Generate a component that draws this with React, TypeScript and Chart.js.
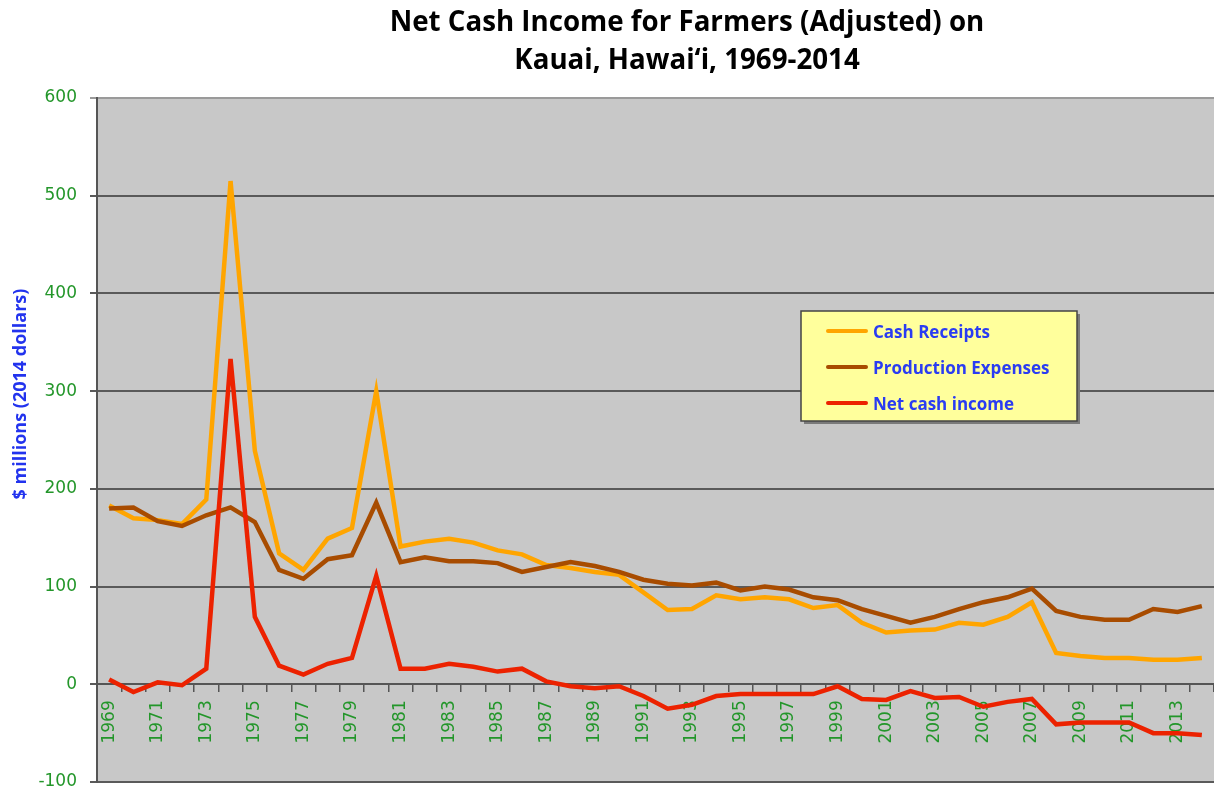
import React, { useEffect, useRef } from 'react';
import { Chart, registerables } from 'chart.js';

Chart.register(...registerables);

const YEARS = [
  '1969', '1970', '1971', '1972', '1973', '1974', '1975', '1976', '1977', '1978',
  '1979', '1980', '1981', '1982', '1983', '1984', '1985', '1986', '1987', '1988',
  '1989', '1990', '1991', '1992', '1993', '1994', '1995', '1996', '1997', '1998',
  '1999', '2000', '2001', '2002', '2003', '2004', '2005', '2006', '2007', '2008',
  '2009', '2010', '2011', '2012', '2013', '2014',
];

const CASH_RECEIPTS = [
  183, 170, 168, 164, 189, 515, 239, 134, 117, 149,
  160, 300, 141, 146, 149, 145, 137, 133, 122, 119,
  115, 112, 94, 76, 77, 91, 87, 89, 87, 78,
  81, 63, 53, 55, 56, 63, 61, 69, 84, 32,
  29, 27, 27, 25, 25, 27,
];

const PRODUCTION_EXPENSES = [
  180, 181, 167, 162, 173, 181, 166, 117, 108, 128,
  132, 186, 125, 130, 126, 126, 124, 115, 120, 125,
  121, 115, 107, 103, 101, 104, 96, 100, 97, 89,
  86, 77, 70, 63, 69, 77, 84, 89, 98, 75,
  69, 66, 66, 77, 74, 80,
];

const NET_CASH_INCOME = [
  5, -8, 2, -1, 16, 333, 69, 19, 10, 21,
  27, 111, 16, 16, 21, 18, 13, 16, 3, -2,
  -4, -2, -12, -25, -21, -12, -10, -10, -10, -10,
  -2, -15, -16, -7, -14, -13, -23, -18, -15, -41,
  -39, -39, -39, -50, -50, -52,
];

const SERIES_NAMES = ['Cash Receipts', 'Production Expenses', 'Net cash income'];
const SERIES_COLORS = ['#ffa500', '#a84c00', '#ec2200'];
const Y_MIN = -100;
const Y_MAX = 600;
const Y_STEP = 100;
const TITLE_LINES = ['Net Cash Income for Farmers (Adjusted) on', 'Kauai, Hawai\u2018i, 1969-2014'];
const Y_TITLE = '$ millions (2014 dollars)';

const decorPlugin = {
  id: 'decor',
  beforeDraw(chart: any) {
    const { ctx, chartArea: a } = chart;
    ctx.save();
    ctx.fillStyle = '#c8c8c8';
    ctx.fillRect(a.left, a.top, a.right - a.left, a.bottom - a.top);
    ctx.restore();
  },
  afterDraw(chart: any) {
    const { ctx } = chart;
    ctx.save();
    // Title
    ctx.fillStyle = '#000000';
    ctx.font = 'bold 27.7px "Open Sans"';
    ctx.textAlign = 'center';
    ctx.textBaseline = 'alphabetic';
    ctx.fillText(TITLE_LINES[0], 687, 31);
    ctx.fillText(TITLE_LINES[1], 687, 69);

    // Y axis title
    ctx.save();
    ctx.translate(21, 394);
    ctx.rotate(-Math.PI / 2);
    ctx.font = 'bold 18px "Open Sans"';
    ctx.fillStyle = '#2233ee';
    ctx.textAlign = 'center';
    ctx.textBaseline = 'middle';
    ctx.fillText(Y_TITLE, 0, 0);
    ctx.restore();

    // Legend
    const bx = 801, by = 311, bw = 276, bh = 110;
    ctx.fillStyle = '#7a7a7a';
    ctx.fillRect(bx + 3, by + 3, bw, bh);
    ctx.fillStyle = '#ffff9c';
    ctx.fillRect(bx, by, bw, bh);
    ctx.strokeStyle = '#444444';
    ctx.lineWidth = 1.5;
    ctx.strokeRect(bx, by, bw, bh);
    const rows = [333, 369, 405];
    ctx.font = 'bold 17px "Open Sans"';
    ctx.textAlign = 'left';
    ctx.textBaseline = 'middle';
    SERIES_NAMES.forEach((name, i) => {
      ctx.strokeStyle = SERIES_COLORS[i];
      ctx.lineWidth = 4;
      ctx.lineCap = 'round';
      ctx.beginPath();
      ctx.moveTo(828, rows[i] - 2);
      ctx.lineTo(866, rows[i] - 2);
      ctx.stroke();
      ctx.fillStyle = '#2a3cf2';
      ctx.fillText(name, 873, rows[i]);
    });
    ctx.restore();
  },
};

export default function App() {
  const canvasRef = useRef<HTMLCanvasElement | null>(null);

  useEffect(() => {
    document.body.style.margin = '0';
    const canvas = canvasRef.current;
    if (!canvas) return;
    const tickFont = { family: '"DejaVu Sans"', size: 17 };
    const chart = new Chart(canvas, {
      type: 'line',
      data: {
        labels: YEARS,
        datasets: [
          { label: SERIES_NAMES[0], data: CASH_RECEIPTS, borderColor: SERIES_COLORS[0], backgroundColor: SERIES_COLORS[0], borderWidth: 4.5, pointRadius: 0, tension: 0, order: 3 },
          { label: SERIES_NAMES[1], data: PRODUCTION_EXPENSES, borderColor: SERIES_COLORS[1], backgroundColor: SERIES_COLORS[1], borderWidth: 4.5, pointRadius: 0, tension: 0, order: 2 },
          { label: SERIES_NAMES[2], data: NET_CASH_INCOME, borderColor: SERIES_COLORS[2], backgroundColor: SERIES_COLORS[2], borderWidth: 4.5, pointRadius: 0, tension: 0, order: 1 },
        ],
      },
      options: {
        responsive: false,
        animation: false,
        layout: { padding: { top: 98, bottom: 19, left: 0, right: -5 } },
        plugins: {
          legend: { display: false },
          title: { display: false },
          tooltip: { enabled: false },
        },
        scales: {
          x: {
            type: 'category',
            position: { y: 0 } as any,
            offset: true,
            grid: {
              offset: true,
              drawOnChartArea: false,
              drawTicks: true,
              tickLength: 14,
              tickBorderDash: [7, 40],
              color: '#555555',
              lineWidth: 1.5,
            },
            border: { display: true, color: '#555555', width: 2 },
            ticks: {
              autoSkip: false,
              minRotation: 90,
              maxRotation: 90,
              padding: 2,
              color: '#23962a',
              font: tickFont,
              callback: (_v: any, i: number) => (i % 2 === 0 ? YEARS[i] : ''),
            },
            afterFit: (s: any) => { s.paddingLeft = 0; s.paddingRight = 0; },
          },
          y: {
            min: Y_MIN,
            max: Y_MAX,
            ticks: { stepSize: Y_STEP, color: '#23962a', font: tickFont, padding: 13 },
            grid: {
              color: (c: any) => (c.tick && c.tick.value === Y_MAX ? '#9a9a9a' : '#5a5a5a'),
              lineWidth: 2,
              tickLength: 7,
            },
            border: { color: '#555555', width: 2 },
            afterFit: (s: any) => { s.width = 97; s.paddingTop = 0; s.paddingBottom = 0; },
          },
        },
      },
      plugins: [decorPlugin],
    } as any);
    return () => chart.destroy();
  }, []);

  return (
    <div style={{ position: 'absolute', left: 0, top: 0, width: 1214, height: 801 }}>
      <canvas ref={canvasRef} width={1214} height={801} />
    </div>
  );
}
